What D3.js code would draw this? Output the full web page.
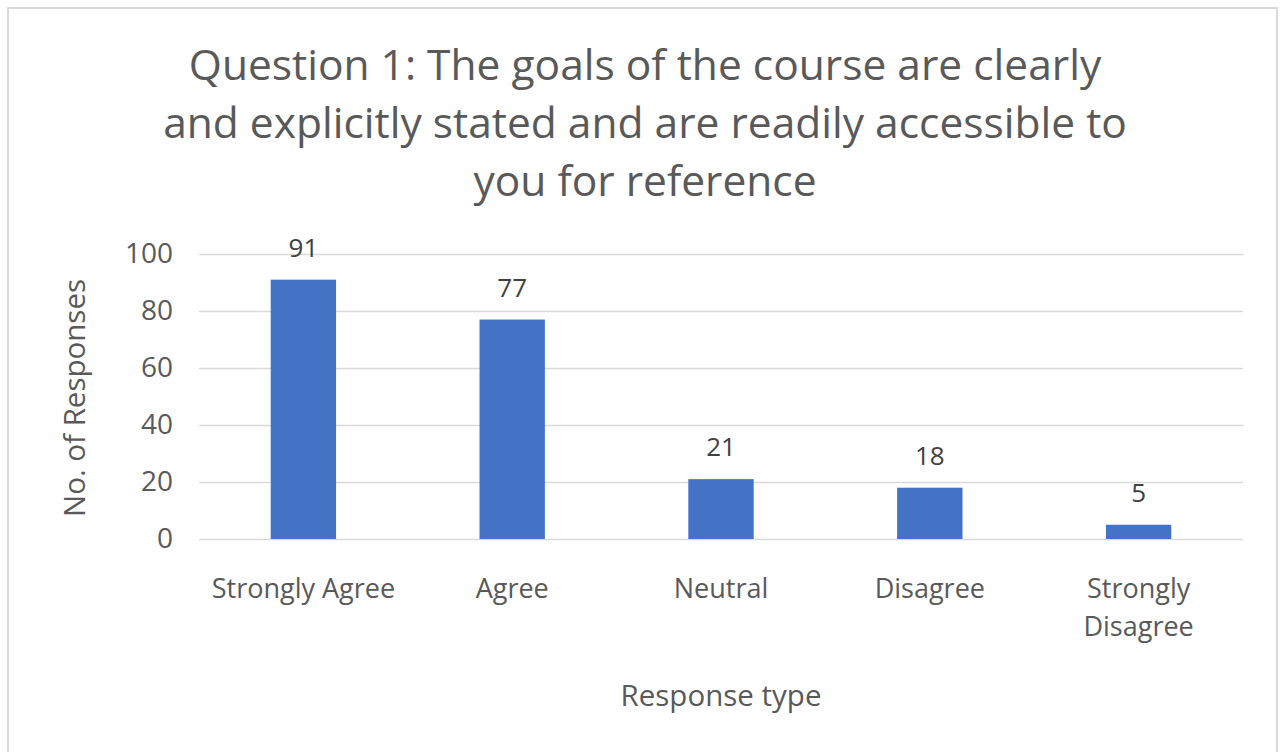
<!DOCTYPE html>
<html><head><meta charset="utf-8">
<script src="https://cdn.jsdelivr.net/npm/d3@7"></script>
<style>body{margin:0;background:#fff}svg{display:block}text{font-family:"Open Sans",sans-serif}</style>
</head><body>
<svg id="c" width="1280" height="752"></svg>
<script>
const categories = ["Strongly Agree","Agree","Neutral","Disagree","Strongly Disagree"];
const values = [91, 77, 21, 18, 5];
const yTicks = [0, 20, 40, 60, 80, 100];
const titleLines = ["Question 1: The goals of the course are clearly","and explicitly stated and are readily accessible to","you for reference"];
const xTitle = "Response type";
const yTitle = "No. of Responses";

const svg = d3.select("#c");
svg.append("rect").attr("x",8).attr("y",8).attr("width",1269).attr("height",760)
  .attr("fill","#fff").attr("stroke","#d9d9d9").attr("stroke-width",2);

const m = {left:199, right:1243, top:254, bottom:539};
const x = d3.scaleBand().domain(categories).range([m.left,m.right]).paddingInner(0.687).paddingOuter(0.3435);
const y = d3.scaleLinear().domain([0,100]).range([m.bottom,m.top]);

// gridlines
const yAxis = d3.axisLeft(y).tickValues(yTicks).tickSize(-(m.right-m.left)).tickPadding(26);
const ga = svg.append("g").attr("transform",`translate(${m.left},0)`).call(yAxis);
ga.select(".domain").remove();
ga.selectAll(".tick line").attr("stroke","#d9d9d9").attr("stroke-width",1.3);
ga.selectAll(".tick text").attr("fill","#595959").style("font-size","28px").style("font-family","Open Sans");

// bars
svg.append("g").selectAll("rect").data(values).join("rect")
  .attr("x",(d,i)=>x(categories[i])).attr("width",x.bandwidth())
  .attr("y",d=>y(d)).attr("height",d=>y(0)-y(d)).attr("fill","#4472c4");

// value labels
svg.append("g").selectAll("text").data(values).join("text")
  .attr("x",(d,i)=>x(categories[i])+x.bandwidth()/2).attr("y",d=>y(d)-23)
  .attr("text-anchor","middle").attr("fill","#404040").style("font-size","26px").text(d=>d);

// category labels
const xa = d3.axisBottom(x).tickSize(0).tickPadding(0);
const gx = svg.append("g").attr("transform",`translate(0,${m.bottom})`).call(xa);
gx.select(".domain").remove();
gx.selectAll(".tick text").remove();
gx.selectAll(".tick").each(function(d){
  const g = d3.select(this);
  const words = d === "Strongly Disagree" ? ["Strongly","Disagree"] : [d];
  words.forEach((w,i)=>g.append("text").attr("y",59+i*38).attr("text-anchor","middle")
    .attr("fill","#595959").style("font-size","27px").style("font-family","Open Sans").text(w));
});

// title
svg.append("g").selectAll("text").data(titleLines).join("text")
  .attr("x",645).attr("y",(d,i)=>80+i*58).attr("text-anchor","middle")
  .attr("fill","#595959").style("font-size","42.5px").text(d=>d);

// axis titles
svg.append("text").attr("x",721).attr("y",706).attr("text-anchor","middle")
  .attr("fill","#595959").style("font-size","29.5px").text(xTitle);
svg.append("text").attr("transform","translate(85,398) rotate(-90)").attr("text-anchor","middle")
  .attr("fill","#595959").style("font-size","29.5px").text(yTitle);
</script>
</body></html>
